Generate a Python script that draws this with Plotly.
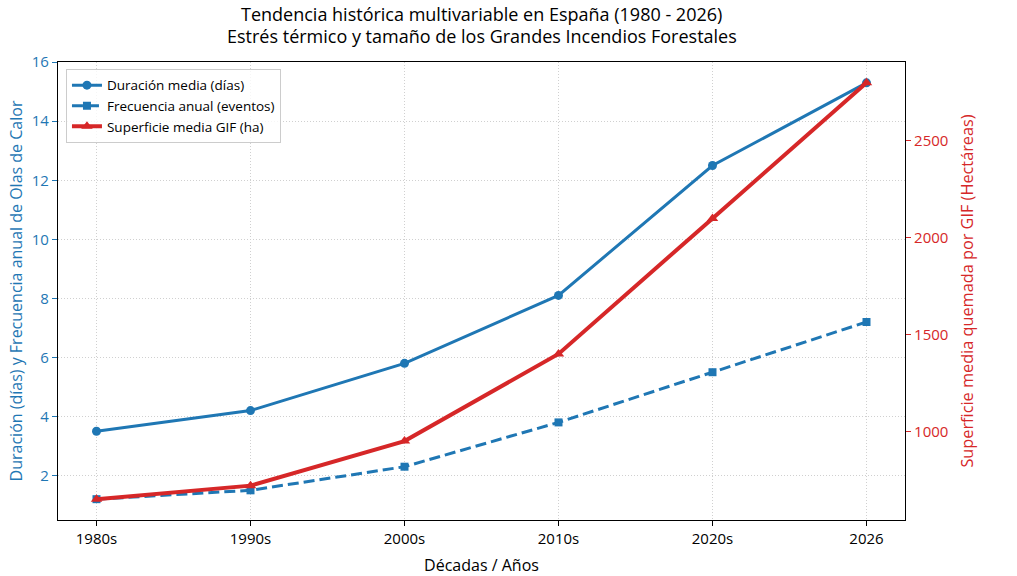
import plotly.graph_objects as go

# datos
decadas = ["1980s", "1990s", "2000s", "2010s", "2020s", "2026"]
duracion_media = [3.5, 4.2, 5.8, 8.1, 12.5, 15.3]
frecuencia_anual = [1.2, 1.5, 2.3, 3.8, 5.5, 7.2]
superficie_gif = [650, 720, 950, 1400, 2100, 2800]

titulo = "Tendencia histórica multivariable en España (1980 - 2026)"
subtitulo = "Estrés térmico y tamaño de los Grandes Incendios Forestales"

AZUL = "#1f77b4"
ROJO = "#d62728"
FONT = "Open Sans"
GRID = "#d0d0d0"

x = list(range(len(decadas)))

fig = go.Figure()

fig.add_trace(go.Scatter(
    x=x, y=duracion_media, name="Duración media (días)",
    mode="lines+markers",
    line=dict(color=AZUL, width=3),
    marker=dict(symbol="circle", size=9, color=AZUL),
))
fig.add_trace(go.Scatter(
    x=x, y=frecuencia_anual, name="Frecuencia anual (eventos)",
    mode="lines+markers",
    line=dict(color=AZUL, width=3, dash="11px,5px"),
    marker=dict(symbol="square", size=8, color=AZUL),
))
fig.add_trace(go.Scatter(
    x=x, y=superficie_gif, name="Superficie media GIF (ha)",
    mode="lines+markers", yaxis="y2",
    line=dict(color=ROJO, width=4),
    marker=dict(symbol="triangle-up", size=10, color=ROJO),
))

# título en dos líneas como anotaciones (centrado sobre el área del gráfico)
for texto, ypix in [(titulo, 14), (subtitulo, 36)]:
    fig.add_annotation(
        text=texto, xref="paper", yref="paper",
        x=0.5, y=1 + (62 - ypix) / 458, xanchor="center", yanchor="middle",
        showarrow=False, font=dict(size=18, color="black"),
    )

fig.update_layout(
    width=1017, height=576,
    margin=dict(l=58, r=112, t=62, b=56, autoexpand=False),
    paper_bgcolor="white", plot_bgcolor="white",
    font=dict(family=FONT, size=14, color="black"),
    xaxis=dict(
        range=[-0.25, 5.25],
        tickmode="array", tickvals=x, ticktext=decadas,
        showline=True, linecolor="black", linewidth=1.2, mirror=True,
        ticks="outside", ticklen=5, tickcolor="black",
        showgrid=True, gridcolor=GRID, griddash="1px,2px", gridwidth=1,
        zeroline=False, automargin=False,
        tickfont=dict(size=15),
        title=dict(text="Décadas / Años", font=dict(size=16), standoff=14),
    ),
    yaxis=dict(
        range=[0.495, 16.005],
        tickvals=[2, 4, 6, 8, 10, 12, 14, 16],
        showline=True, linecolor="black", linewidth=1.2,
        ticks="outside", ticklen=5, tickcolor=AZUL,
        showgrid=True, gridcolor=GRID, griddash="1px,2px", gridwidth=1,
        zeroline=False, automargin=False,
        tickfont=dict(size=15, color=AZUL),
        title=dict(text="Duración (días) y Frecuencia anual de Olas de Calor",
                   font=dict(size=16, color=AZUL), standoff=5),
    ),
    yaxis2=dict(
        range=[542.5, 2907.5],
        tickvals=[1000, 1500, 2000, 2500],
        overlaying="y", side="right",
        showline=True, linecolor="black", linewidth=1.2,
        ticks="outside", ticklen=5, tickcolor=ROJO,
        showgrid=False, zeroline=False, automargin=False,
        tickfont=dict(size=15, color=ROJO),
        title=dict(text="Superficie media quemada por GIF (Hectáreas)",
                   font=dict(size=16.3, color=ROJO), standoff=14),
    ),
    legend=dict(
        x=0.0094, y=0.985, xanchor="left", yanchor="top",
        bgcolor="rgba(255,255,255,0.8)", bordercolor="#cccccc", borderwidth=1,
        font=dict(size=13.5),
        tracegroupgap=0,
    ),
    showlegend=True,
)

# el navegador añade 8px de margen al body: se quita para que cuadre el encuadre
fig.write_html("out.html", config={"displayModeBar": False},
               post_script="document.body.style.margin='0';")
